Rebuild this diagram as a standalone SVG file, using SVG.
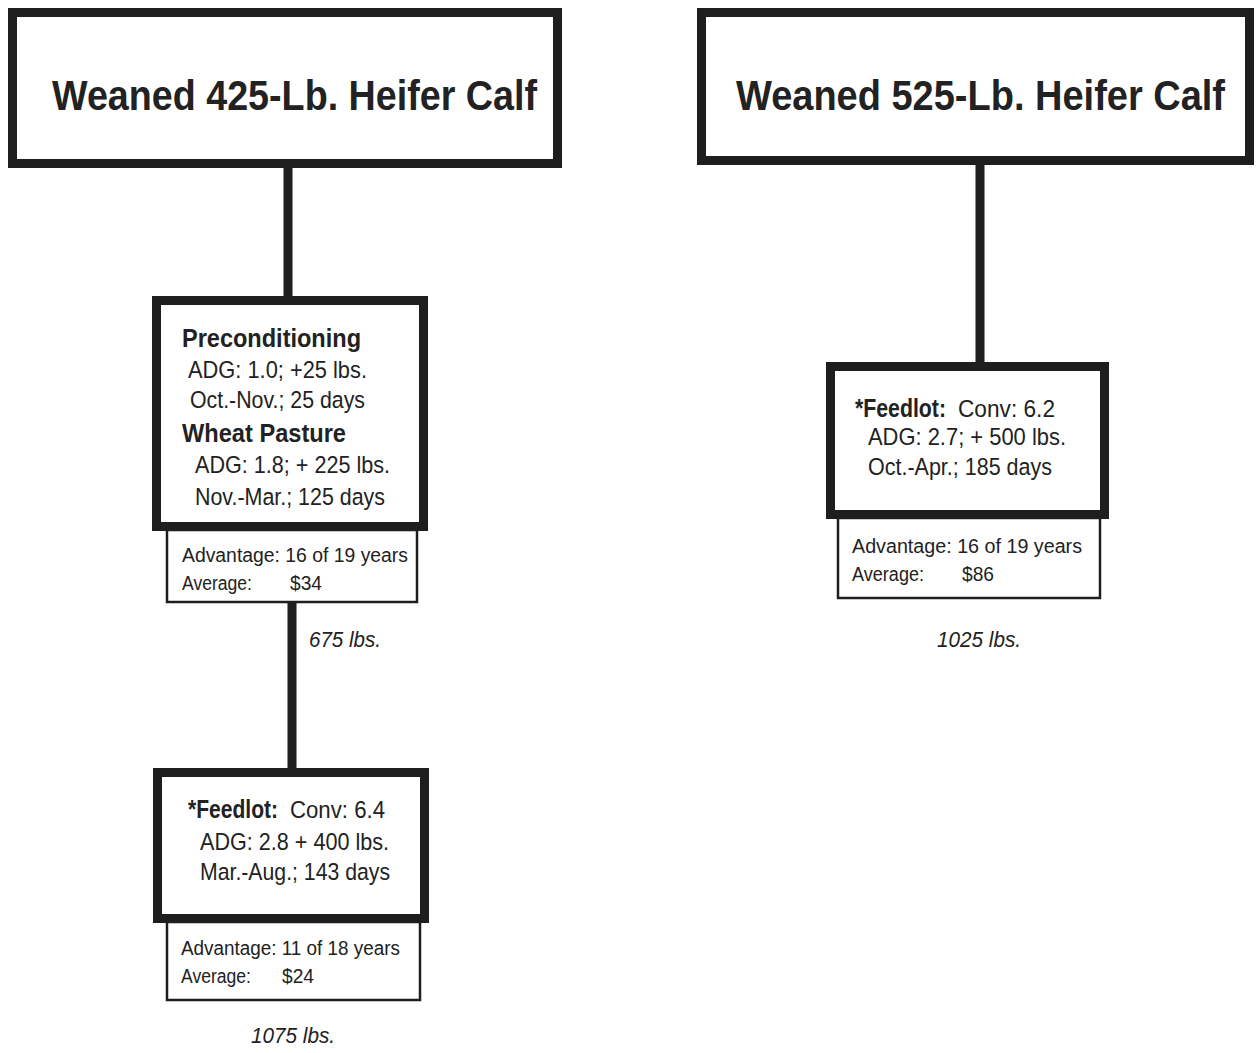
<svg xmlns="http://www.w3.org/2000/svg" width="1257" height="1053" viewBox="0 0 1257 1053">
<style>
text{font-family:"Liberation Sans",Arial,Helvetica,sans-serif;fill:#222}
.title{font-size:42px;font-weight:bold}
.h{font-size:26.5px;font-weight:bold}
.b{font-size:26px;font-weight:bold}
.t{font-size:24.5px}
.s{font-size:20px}
.i{font-size:21.5px;font-style:italic}
.thick{fill:#fff;stroke:#1e1e1e;stroke-width:9}
.thin{fill:#fff;stroke:#1e1e1e;stroke-width:2.5}
.conn{stroke:#1e1e1e;stroke-width:9;fill:none}
</style>
<rect width="1257" height="1053" fill="#fff"/>
<g id="connectors">
<line class="conn" x1="288" y1="165" x2="288" y2="300"/>
<line class="conn" x1="292" y1="600" x2="292" y2="772"/>
<line class="conn" x1="980" y1="162" x2="980" y2="366"/>
</g>
<g id="calf425">
<rect class="thick" x="12.5" y="12.5" width="545" height="151"/>
<text class="title" x="52" y="110" textLength="485" lengthAdjust="spacingAndGlyphs">Weaned 425-Lb. Heifer Calf</text>
</g>
<g id="calf525">
<rect class="thick" x="701.5" y="12.5" width="548" height="148"/>
<text class="title" x="736" y="110" textLength="489" lengthAdjust="spacingAndGlyphs">Weaned 525-Lb. Heifer Calf</text>
</g>
<g id="precond">
<rect class="thick" x="156.5" y="300.5" width="267" height="226"/>
<text class="h" x="182" y="347" textLength="179" lengthAdjust="spacingAndGlyphs">Preconditioning</text>
<text class="t" x="188" y="378" textLength="179" lengthAdjust="spacingAndGlyphs">ADG:  1.0; +25 lbs.</text>
<text class="t" x="190" y="408" textLength="175" lengthAdjust="spacingAndGlyphs">Oct.-Nov.; 25 days</text>
<text class="h" x="182" y="442" textLength="164" lengthAdjust="spacingAndGlyphs">Wheat Pasture</text>
<text class="t" x="195" y="473" textLength="195" lengthAdjust="spacingAndGlyphs">ADG:  1.8; + 225 lbs.</text>
<text class="t" x="195" y="505" textLength="190" lengthAdjust="spacingAndGlyphs">Nov.-Mar.; 125 days</text>
</g>
<g id="adv1">
<rect class="thin" x="167" y="530" width="250" height="72"/>
<text class="s" x="182" y="562" textLength="226" lengthAdjust="spacingAndGlyphs">Advantage:  16 of 19 years</text>
<text class="s" x="182" y="590" textLength="70" lengthAdjust="spacingAndGlyphs">Average:</text>
<text class="s" x="290" y="590" textLength="32" lengthAdjust="spacingAndGlyphs">$34</text>
</g>
<text id="w675" class="i" x="309" y="647" textLength="72" lengthAdjust="spacingAndGlyphs">675 lbs.</text>
<g id="feedlot1">
<rect class="thick" x="157.5" y="772.5" width="267" height="146"/>
<text class="b" x="188" y="818" textLength="90" lengthAdjust="spacingAndGlyphs">*Feedlot:</text>
<text class="t" x="290" y="818" textLength="95" lengthAdjust="spacingAndGlyphs">Conv:  6.4</text>
<text class="t" x="200" y="850" textLength="189" lengthAdjust="spacingAndGlyphs">ADG:  2.8 + 400 lbs.</text>
<text class="t" x="200" y="880" textLength="190" lengthAdjust="spacingAndGlyphs">Mar.-Aug.; 143 days</text>
</g>
<g id="adv2">
<rect class="thin" x="167" y="922" width="253" height="78"/>
<text class="s" x="181" y="955" textLength="219" lengthAdjust="spacingAndGlyphs">Advantage: 11 of 18 years</text>
<text class="s" x="181" y="983" textLength="70" lengthAdjust="spacingAndGlyphs">Average:</text>
<text class="s" x="282" y="983" textLength="32" lengthAdjust="spacingAndGlyphs">$24</text>
</g>
<text id="w1075" class="i" x="251" y="1043" textLength="84" lengthAdjust="spacingAndGlyphs">1075 lbs.</text>
<g id="feedlot2">
<rect class="thick" x="830.5" y="366.5" width="274" height="148"/>
<text class="b" x="855" y="417" textLength="91" lengthAdjust="spacingAndGlyphs">*Feedlot:</text>
<text class="t" x="958" y="417" textLength="97" lengthAdjust="spacingAndGlyphs">Conv:  6.2</text>
<text class="t" x="868" y="445" textLength="198" lengthAdjust="spacingAndGlyphs">ADG:  2.7; + 500 lbs.</text>
<text class="t" x="868" y="475" textLength="184" lengthAdjust="spacingAndGlyphs">Oct.-Apr.; 185 days</text>
</g>
<g id="adv3">
<rect class="thin" x="838" y="518" width="262" height="80"/>
<text class="s" x="852" y="553" textLength="230" lengthAdjust="spacingAndGlyphs">Advantage:  16 of 19 years</text>
<text class="s" x="852" y="581" textLength="72" lengthAdjust="spacingAndGlyphs">Average:</text>
<text class="s" x="962" y="581" textLength="32" lengthAdjust="spacingAndGlyphs">$86</text>
</g>
<text id="w1025" class="i" x="937" y="647" textLength="84" lengthAdjust="spacingAndGlyphs">1025 lbs.</text>
</svg>
